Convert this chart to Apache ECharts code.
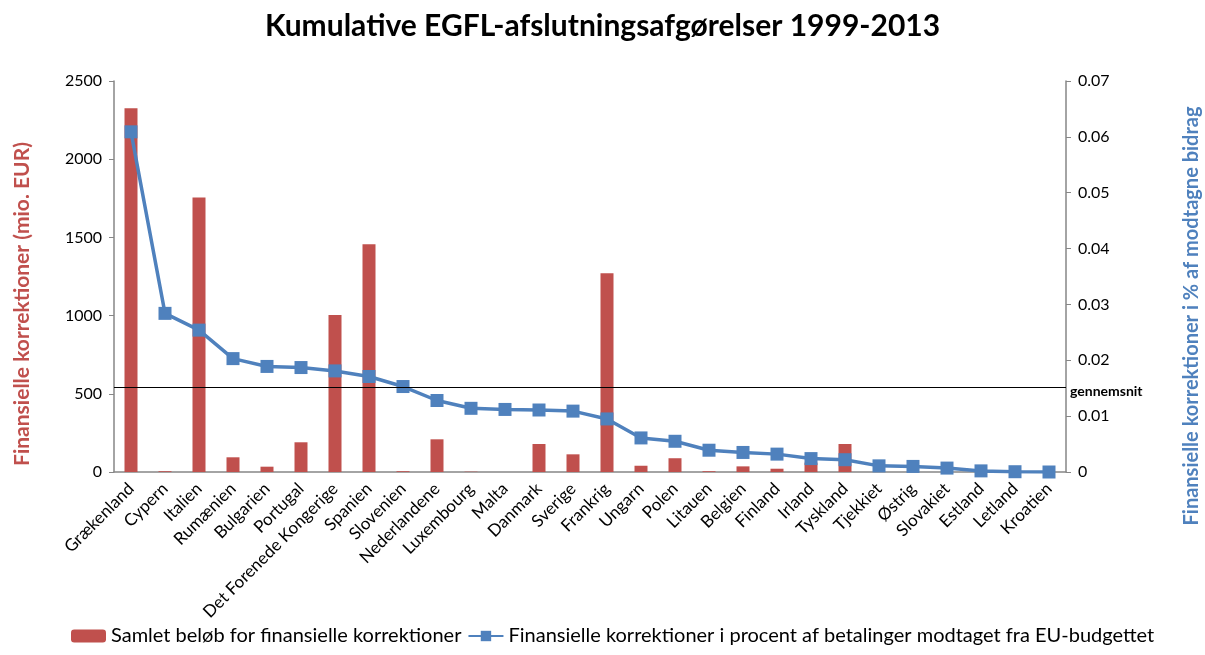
<!DOCTYPE html>
<html>
<head>
<meta charset="utf-8">
<script src="https://cdn.jsdelivr.net/npm/echarts@6/dist/echarts.min.js"></script>
<style>
  html, body { margin: 0; padding: 0; background: #fff; }
  #chart { width: 1205px; height: 655px; }
</style>
</head>
<body>
<div id="chart"></div>
<script>
// data
const countries = ['Grækenland', 'Cypern', 'Italien', 'Rumænien', 'Bulgarien', 'Portugal',
  'Det Forenede Kongerige', 'Spanien', 'Slovenien', 'Nederlandene', 'Luxembourg', 'Malta',
  'Danmark', 'Sverige', 'Frankrig', 'Ungarn', 'Polen', 'Litauen', 'Belgien', 'Finland',
  'Irland', 'Tyskland', 'Tjekkiet', 'Østrig', 'Slovakiet', 'Estland', 'Letland', 'Kroatien']
const amounts = [2325, 5, 1755, 94, 34, 190, 1004, 1456, 5, 209, 2, 0,
  179, 113, 1270, 40, 88, 5, 36, 21, 60, 179, 0, 0, 0, 0, 0, 0]
const percents = [0.0609, 0.0284, 0.0254, 0.0203, 0.0189, 0.0187, 0.0181, 0.0171, 0.0153,
  0.0128, 0.0114, 0.0112, 0.0111, 0.0109, 0.0095, 0.0061, 0.0055, 0.0039, 0.0035, 0.0032,
  0.0024, 0.0022, 0.0011, 0.0010, 0.0007, 0.0002, 0.00005, 0]
const average = 0.0151
const barName = 'Samlet beløb for finansielle korrektioner'
const lineName = 'Finansielle korrektioner i procent af betalinger modtaget fra EU-budgettet'
const leftTitle = 'Finansielle korrektioner (mio. EUR)'
const rightTitle = 'Finansielle korrektioner i % af modtagne bidrag'

const font = 'Lato, "Open Sans", sans-serif'
const red = '#c0504d'
const blue = '#4f81bd'

const chart = echarts.init(document.getElementById('chart'))
chart.setOption({
  animation: false,
  textStyle: { fontFamily: font },
  title: {
    text: 'Kumulative EGFL-afslutningsafgørelser 1999-2013',
    left: 'center',
    top: 6,
    textStyle: { fontFamily: font, fontSize: 30, fontWeight: 'bold', color: '#000' }
  },
  grid: { left: 114, right: 139, top: 81, bottom: 183 },
  legend: {
    bottom: 4,
    left: 66,
    itemGap: 6,
    itemWidth: 35,
    itemHeight: 13,
    textStyle: { fontFamily: font, fontSize: 20, color: '#000' },
    data: [barName, lineName]
  },
  xAxis: {
    type: 'category',
    data: countries,
    axisLine: { lineStyle: { color: '#868686', width: 1.5 } },
    axisTick: { show: false },
    axisLabel: { rotate: 45, interval: 0, fontSize: 17, color: '#000', fontFamily: font, margin: 14 }
  },
  yAxis: [{
    type: 'value',
    min: 0,
    max: 2500,
    interval: 500,
    splitLine: { show: false },
    axisLine: { show: true, lineStyle: { color: '#868686', width: 1.5 } },
    axisTick: { show: true, length: 5, lineStyle: { color: '#868686' } },
    axisLabel: { fontSize: 16, color: '#000', fontFamily: font, margin: 12, formatter: v => String(v) }
  }, {
    type: 'value',
    min: 0,
    max: 0.07,
    interval: 0.01,
    splitLine: { show: false },
    axisLine: { show: true, lineStyle: { color: '#868686', width: 1.5 } },
    axisTick: { show: true, length: 5, lineStyle: { color: '#868686' } },
    axisLabel: {
      fontSize: 16, color: '#000', fontFamily: font, margin: 12,
      formatter: v => v === 0 ? '0' : v.toFixed(2)
    }
  }],
  graphic: [{
    type: 'text',
    x: 22,
    y: 304,
    rotation: Math.PI / 2,
    style: {
      text: leftTitle,
      fill: red,
      font: 'bold 21px ' + font,
      textAlign: 'center',
      textVerticalAlign: 'middle'
    }
  }, {
    type: 'text',
    x: 1192,
    y: 316,
    rotation: Math.PI / 2,
    style: {
      text: rightTitle,
      fill: blue,
      font: 'bold 20px ' + font,
      textAlign: 'center',
      textVerticalAlign: 'middle'
    }
  }],
  series: [{
    name: barName,
    type: 'bar',
    data: amounts,
    barWidth: 13,
    itemStyle: { color: red }
  }, {
    name: lineName,
    type: 'line',
    yAxisIndex: 1,
    data: percents,
    symbol: 'rect',
    symbolSize: 13,
    lineStyle: { color: blue, width: 3.5 },
    itemStyle: { color: blue },
    z: 3,
    markLine: {
      silent: true,
      symbol: 'none',
      precision: 4,
      lineStyle: { color: '#000', width: 1.2, type: 'solid' },
      label: {
        position: 'end',
        formatter: 'gennemsnit',
        fontSize: 14,
        fontWeight: 'bold',
        color: '#000',
        fontFamily: font,
        distance: 4,
        offset: [0, 4]
      },
      data: [{ yAxis: average }]
    }
  }]
})
</script>
</body>
</html>
